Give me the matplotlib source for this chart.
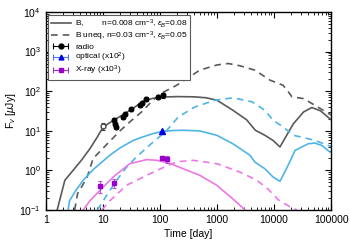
import matplotlib
matplotlib.use("Agg")
import matplotlib.pyplot as plt
from matplotlib.lines import Line2D
from matplotlib.legend_handler import HandlerLine2D, HandlerTuple
from matplotlib.ticker import LogLocator, NullFormatter

plt.rcParams['font.family'] = ['Liberation Sans', 'DejaVu Sans']
plt.rcParams['mathtext.fontset'] = 'custom'
plt.rcParams['mathtext.rm'] = 'Liberation Sans'
plt.rcParams['mathtext.it'] = 'Liberation Sans:italic'

# model curves (time in days, flux in uJy)
b_t = [1.58, 2.15, 3.0, 4.2, 5.9, 8, 10.1, 15, 22, 32, 50, 75, 110, 200, 400, 650,
       1000, 1900, 3300, 4700, 6900, 9600, 12700, 16000, 21800, 33000, 46000, 65000, 100000]
b_f = [0.1, 0.56, 1.0, 1.8, 3.5, 7, 12.5, 18, 25, 35, 55, 66, 71, 73, 72, 68,
       59, 33, 19, 10.3, 7.7, 5.7, 3.9, 7, 15, 30, 38.6, 32, 19]

bu_t = [3.2, 3.6, 5.2, 5.9, 6.75, 10, 20, 30, 47.7, 62.6, 100, 196, 500, 1000, 1580,
        2500, 4600, 8500, 14400, 17500, 20600, 32900, 52000, 100000]
bu_f = [0.1, 0.26, 0.63, 1.1, 2.0, 3.6, 10, 17, 30, 45, 85, 141, 340, 460, 500,
        440, 340, 190, 141, 100, 72, 65, 44, 25]

opt_t = [2.46, 2.6, 3.3, 4.5, 7, 13.2, 20, 34, 50, 76, 107, 180, 255, 500, 990,
         1900, 3800, 4600, 6900, 9600, 12700, 17000, 23400, 39600, 52000, 70000, 95000]
opt_f = [0.1, 0.17, 0.3, 0.56, 1.1, 2.4, 3.7, 5.7, 7, 8.5, 9.6, 10.2, 10.3, 9.9, 7.7,
         4.7, 2.4, 1.62, 1.1, 0.68, 0.53, 1.2, 3.2, 4.7, 4.9, 4.2, 2.9]

optu_t = [8, 12, 18, 26, 39, 76, 130, 210, 410, 920, 1900, 4100, 6900, 9600,
          14400, 21800, 39600, 52000, 100000]
optu_f = [0.1, 0.25, 0.6, 1.2, 2.2, 5.2, 10, 22.4, 40, 59, 68, 54, 33, 18.5,
          12.5, 7.7, 6.3, 5.7, 4.0]

xr_t = [4.5, 5.9, 8.8, 15.2, 29.6, 58.5, 87, 150, 255, 500, 990, 1900, 3100]
xr_f = [0.1, 0.17, 0.31, 0.68, 1.48, 1.87, 1.8, 1.5, 1.1, 0.75, 0.42, 0.19, 0.1]

xru_t = [9.6, 13.2, 26, 58.5, 110, 196, 385, 990, 2550, 5000, 7800, 11900, 19000, 25000]
xru_f = [0.1, 0.17, 0.42, 0.75, 1.15, 1.65, 1.79, 1.48, 0.9, 0.56, 0.34, 0.18, 0.12, 0.1]

# observations
radio_t = [15.5, 16.3, 16.9, 22.7, 24.2, 30.5, 44.5, 47.7, 56.5, 91, 112]
radio_f = [19, 15, 12.5, 22, 26, 35, 44, 49, 65, 72, 80]
radio_err = [2, 1.5, 1.5, 2, 2.5, 3, 4, 5, 8, 7, 12]
radio_open_t = [9.9]
radio_open_f = [13]
radio_open_err = [2.8]

opt_obs_t = [107]
opt_obs_f = [9.9]

xray_obs_t = [8.9, 15.6, 107, 134]
xray_obs_f = [0.40, 0.48, 2.1, 1.9]
xray_obs_err = [0.13, 0.13, 0.2, 0.35]

gray = '#5a5a5a'
blue = '#4fb5e6'
pink = '#ee77e6'

fig, ax = plt.subplots(figsize=(3.5, 2.45), dpi=100)
fig.subplots_adjust(left=0.131, right=0.946, bottom=0.143, top=0.951)

lw = 1.2
dash = (0, (4, 3))
l1, = ax.plot(b_t, b_f, color=gray, lw=lw)
l2, = ax.plot(bu_t, bu_f, color=gray, lw=lw, linestyle=dash)
ax.plot(opt_t, opt_f, color=blue, lw=lw)
ax.plot(optu_t, optu_f, color=blue, lw=lw, linestyle=dash)
ax.plot(xr_t, xr_f, color=pink, lw=lw)
ax.plot(xru_t, xru_f, color=pink, lw=lw, linestyle=dash)

ekw = dict(elinewidth=0.8, capsize=1.5, capthick=0.8)
ax.errorbar(radio_t, radio_f, yerr=radio_err, fmt='o', color='black', ms=3.3, **ekw)
ax.errorbar(radio_open_t, radio_open_f, yerr=radio_open_err, fmt='o', mfc='white',
            mec='#444444', ecolor='#444444', ms=3.5, **ekw)
ax.plot(opt_obs_t, opt_obs_f, '^', color='#0000ee', ms=4)
ax.errorbar(xray_obs_t, xray_obs_f, yerr=xray_obs_err, fmt='s', color='#9900cc',
            ecolor='#bb55dd', ms=3.5, **ekw)

ax.set_xscale('log')
ax.set_yscale('log')
ax.set_xlim(1, 100000)
ax.set_ylim(0.1, 10000)
ax.set_xticks([1, 10, 100, 1000, 10000, 100000])
ax.set_xticklabels(['1', '10', '100', '1000', '10000', '100000'])
ax.xaxis.set_minor_locator(LogLocator(base=10, subs=range(2, 10), numticks=20))
ax.xaxis.set_minor_formatter(NullFormatter())
ax.yaxis.set_minor_locator(LogLocator(base=10, subs=range(2, 10), numticks=20))
ax.yaxis.set_minor_formatter(NullFormatter())
ax.tick_params(which='both', direction='in', top=True, right=True, labelsize=7.5)
ax.tick_params(which='major', length=4, width=0.8)
ax.tick_params(which='minor', length=2, width=0.6)
for s in ax.spines.values():
    s.set_linewidth(1.0)

ax.set_xlabel('Time [day]', fontsize=7.5, labelpad=3)
ax.set_ylabel(r'F$_\nu$ [$\mu$Jy]', fontsize=7.5, labelpad=1)

# legend handles drawn gnuplot style: bar with caps and the marker in the middle
def err_handle(lcolor, mcolor, marker):
    bar = Line2D([], [], color=lcolor, lw=0.8, marker='|', ms=4, mew=0.8)
    mk = Line2D([], [], ls='none', color=mcolor, marker=marker, ms=3.5)
    return (bar, mk), bar, mk

h_radio, bar1, mk1 = err_handle('black', 'black', 'o')
h_opt, bar2, mk2 = err_handle('#5577ff', '#0000ee', '^')
h_xr, bar3, mk3 = err_handle('#9933cc', '#9900cc', 's')
hmap = {tuple: HandlerTuple(ndivide=1)}
for b in (bar1, bar2, bar3):
    hmap[b] = HandlerLine2D(numpoints=2)
for m in (mk1, mk2, mk3):
    hmap[m] = HandlerLine2D(numpoints=1)

leg = ax.legend([l1, l2, h_radio, h_opt, h_xr],
                [r'B,        n=0.008 cm$^{-3}$, $\epsilon_B$=0.08',
                 r'B uneq, n=0.03 cm$^{-3}$, $\epsilon_B$=0.05',
                 'radio', r'optical (x10$^2$)', r'X-ray (x10$^3$)'],
                handler_map=hmap, loc='upper left', fontsize=6, fancybox=False,
                framealpha=1, edgecolor=gray, borderpad=0.3, labelspacing=0.0,
                handlelength=2.4, handletextpad=0.5, borderaxespad=0.3)
leg.get_frame().set_linewidth(0.8)

fig.savefig('out.png', dpi=100)
